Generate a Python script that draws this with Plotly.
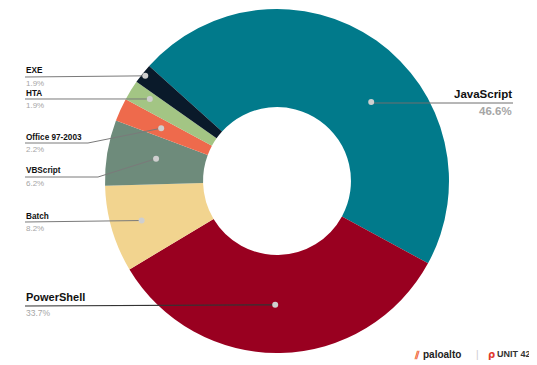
import math
import plotly.graph_objects as go

# ---- data ----
labels = ["JavaScript", "PowerShell", "Batch", "VBScript", "Office 97-2003", "HTA", "EXE"]
values = [46.6, 33.7, 8.2, 6.2, 2.2, 1.9, 1.9]
colors = ["#017A8B", "#990020", "#F2D48F", "#6E8B7B", "#EE6A4C", "#A3C584", "#0A1A2A"]

# ---- style / layout constants ----
W, H = 537, 365
OFF = 8  # page body margin offset compensation
CX, CY, R = 277, 181, 172
HOLE = 0.43
ROTATION = -48
dot_r = [0.715, 0.72, 0.82, 0.715, 0.74, 0.88, 0.98]
dot_shift = [14.7, 2, 0, 1, 0, 1, 0]
label_line_y = [103, 306, 222, 177, 143, 99, 77]
label_elbow_x = [None, None, None, 98, 88, None, None]
LEFT_X, RIGHT_X = 25, 513
FONT = "Liberation Sans, Arial"


def px(x):
    return (x - OFF) / W


def py(y):
    return 1 - (y - OFF) / H


fig = go.Figure()
fig.add_trace(go.Pie(
    labels=labels, values=values, sort=False, direction="clockwise",
    rotation=ROTATION, hole=HOLE, textinfo="none",
    marker=dict(colors=colors, line=dict(width=0)),
    showlegend=False,
    domain=dict(x=[px(CX - R), px(CX + R)], y=[py(CY + R), py(CY - R)]),
))

total = sum(values)
shapes = []
annotations = []
cum = 0.0
for i, (lab, v) in enumerate(zip(labels, values)):
    mid = ROTATION + (cum + v / 2) * 360 / total + dot_shift[i]
    cum += v
    a = math.radians(mid)
    dx = CX + dot_r[i] * R * math.sin(a)
    dy = CY - dot_r[i] * R * math.cos(a)
    ly = label_line_y[i]
    if lab == "JavaScript":
        path = f"M {px(dx)} {py(ly)} L {px(RIGHT_X)} {py(ly)}"
        lc, lw = "#6f6f6f", 1
    else:
        pts = [(LEFT_X, ly)]
        if label_elbow_x[i] is not None:
            pts.append((label_elbow_x[i], ly))
        pts.append((dx, dy))
        path = "M " + " L ".join(f"{px(x)} {py(y)}" for x, y in pts)
        lc, lw = ("#333333", 1.2) if lab == "PowerShell" else ("#7a7a7a", 1)
    shapes.append(dict(type="path", path=path, xref="paper", yref="paper",
                       line=dict(color=lc, width=lw), layer="above"))
    rr = 3
    shapes.append(dict(type="circle", xref="paper", yref="paper",
                       x0=px(dx - rr), x1=px(dx + rr), y0=py(dy + rr), y1=py(dy - rr),
                       fillcolor="#cfcfcf", line=dict(width=0), layer="above"))
    pct = f"{v}%"
    if lab == "JavaScript":
        annotations.append(dict(x=px(RIGHT_X), y=py(ly - 2), xref="paper", yref="paper",
                                text=f"<b>{lab}</b>", showarrow=False, xanchor="right", yanchor="bottom",
                                font=dict(size=11.5, color="#111111", family=FONT), borderpad=0))
        annotations.append(dict(x=px(RIGHT_X), y=py(ly + 1), xref="paper", yref="paper",
                                text=f"<b>{pct}</b>", showarrow=False, xanchor="right", yanchor="top",
                                font=dict(size=11.5, color="#a6a6a6", family=FONT), borderpad=0))
    elif lab == "PowerShell":
        annotations.append(dict(x=px(LEFT_X), y=py(ly - 2), xref="paper", yref="paper",
                                text=f"<b>{lab}</b>", showarrow=False, xanchor="left", yanchor="bottom",
                                font=dict(size=11, color="#111111", family=FONT), borderpad=0))
        annotations.append(dict(x=px(LEFT_X), y=py(ly + 1), xref="paper", yref="paper",
                                text=pct, showarrow=False, xanchor="left", yanchor="top",
                                font=dict(size=8.5, color="#a6a6a6", family=FONT), borderpad=0))
    else:
        annotations.append(dict(x=px(LEFT_X), y=py(ly - 0.5), xref="paper", yref="paper",
                                text=f"<b>{lab}</b>", showarrow=False, xanchor="left", yanchor="bottom",
                                font=dict(size=8.2, color="#111111", family=FONT), borderpad=0))
        annotations.append(dict(x=px(LEFT_X), y=py(ly + 0.5), xref="paper", yref="paper",
                                text=pct, showarrow=False, xanchor="left", yanchor="top",
                                font=dict(size=8, color="#a6a6a6", family=FONT), borderpad=0))

# logo texts (bottom right)
annotations += [
    dict(x=px(412), y=py(355), xref="paper", yref="paper", text="<b>⫽</b>", showarrow=False,
         xanchor="left", yanchor="middle", font=dict(size=10, color="#F05A28", family="DejaVu Sans")),
    dict(x=px(421), y=py(354), xref="paper", yref="paper", text="<b>paloalto</b>", showarrow=False,
         xanchor="left", yanchor="middle", font=dict(size=10, color="#222222", family=FONT)),
    dict(x=px(477), y=py(354), xref="paper", yref="paper", text="|", showarrow=False,
         xanchor="center", yanchor="middle", font=dict(size=10, color="#cccccc", family=FONT)),
    dict(x=px(486), y=py(354), xref="paper", yref="paper", text="<b>ρ</b>", showarrow=False,
         xanchor="left", yanchor="middle", font=dict(size=10, color="#E03A2F", family="DejaVu Sans")),
    dict(x=px(495), y=py(354), xref="paper", yref="paper", text="<b>UNIT 42</b>", showarrow=False,
         xanchor="left", yanchor="middle", font=dict(size=9, color="#333333", family=FONT)),
]

fig.update_layout(
    width=W, height=H, margin=dict(l=0, r=0, t=0, b=0),
    paper_bgcolor="white", plot_bgcolor="white",
    shapes=shapes, annotations=annotations,
)
fig.write_html("out.html")
